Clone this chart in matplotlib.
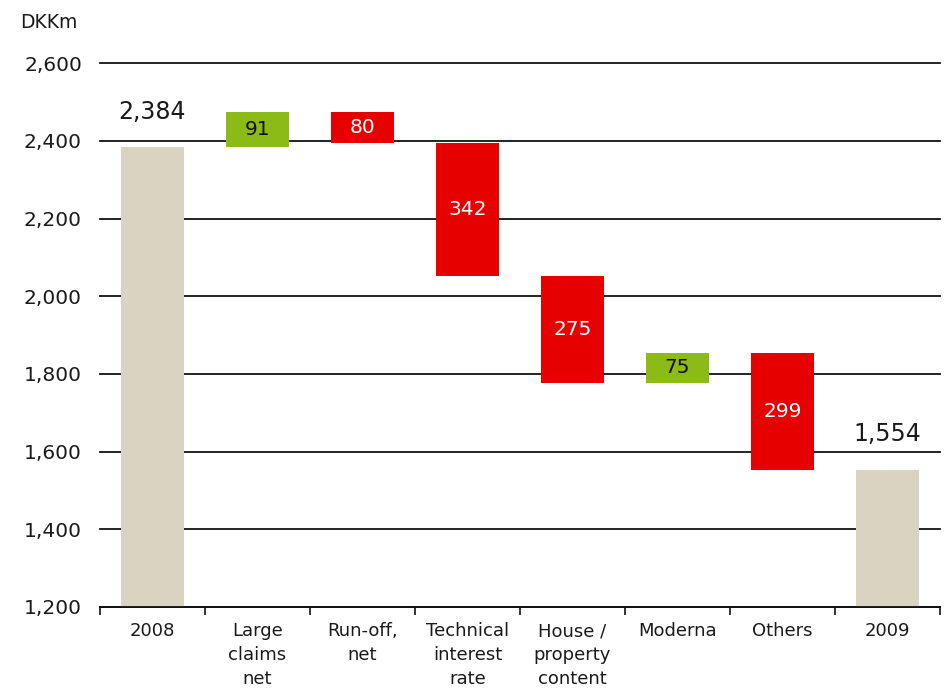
import matplotlib.pyplot as plt
import numpy as np

# Данные
categories = ["2008", "Large\nclaims\nnet", "Run-off,\nnet", "Technical\ninterest\nrate",
              "House /\nproperty\ncontent", "Moderna", "Others", "2009"]
start_total = 2384
changes = [91, -80, -342, -275, 75, -299]
end_total = 1554
yticks = [1200, 1400, 1600, 1800, 2000, 2200, 2400, 2600]

TAN = "#D9D3C1"
GREEN = "#8CBA16"
RED = "#E60000"

fig = plt.figure(figsize=(9.46, 6.90), dpi=100)
ax = fig.add_axes([0.1057, 0.1203, 0.888, 0.788])

x = np.arange(len(categories))
width = 0.6

# Итоговые столбцы
for xi, val in [(x[0], start_total), (x[-1], end_total)]:
    ax.bar(xi, val - 1200, bottom=1200, width=width, color=TAN, zorder=3)
    ax.annotate(f"{val:,}", (xi, val), xytext=(0, 17), textcoords="offset points",
                ha="center", va="bottom", fontsize=17, color="#1a1a1a")

# Изменения
level = start_total
for i, d in enumerate(changes):
    bottom = level if d > 0 else level + d
    color = GREEN if d > 0 else RED
    ax.bar(x[i + 1], abs(d), bottom=bottom, width=width, color=color, zorder=3)
    ax.text(x[i + 1], bottom + abs(d) / 2, f"{abs(d)}", ha="center", va="center",
            fontsize=14.5, color="#111111" if d > 0 else "white", zorder=4)
    level += d

ax.set_ylim(1200, 2600)
ax.set_xlim(-0.5, len(categories) - 0.5)
ax.set_yticks(yticks)
ax.set_yticklabels([f"{v:,}" for v in yticks], fontsize=14.5, color="#1a1a1a")
ax.yaxis.grid(True, color="#111111", lw=1.3, zorder=1)
for gl in ax.get_ygridlines():
    gl.set_clip_on(False)
ax.tick_params(axis="y", length=0, pad=13)

ax.set_xticks(x)
ax.set_xticklabels(categories, fontsize=13, color="#1a1a1a", linespacing=1.42)
ax.set_xticks(np.arange(len(categories) + 1) - 0.5, minor=True)
ax.tick_params(axis="x", which="major", length=0, pad=11)
ax.tick_params(axis="x", which="minor", length=6, width=1.2, color="#111111", direction="out")

for s in ["top", "right", "left"]:
    ax.spines[s].set_visible(False)
ax.spines["bottom"].set_color("#111111")
ax.spines["bottom"].set_linewidth(1.3)
ax.spines["bottom"].set_zorder(5)

fig.text(0.021, 0.967, "DKKm", fontsize=13.5, color="#1a1a1a", va="center")

fig.savefig("out.png", dpi=100)
